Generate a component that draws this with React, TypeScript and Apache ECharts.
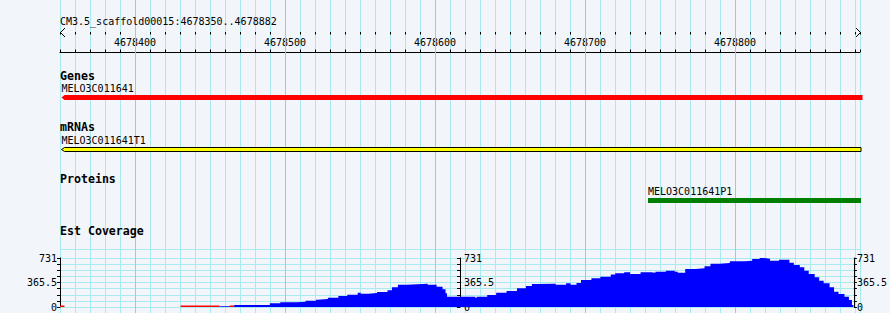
import React, { useEffect, useRef } from 'react';
import * as echarts from 'echarts';

// ---- domain ----
const VIEW_START = 4678350;
const VIEW_END = 4678350 + 1600 / 3;
const SCAFFOLD_LABEL = 'CM3.5_scaffold00015:4678350..4678882';

// ---- tracks ----
const trackTitles = ['Genes', 'mRNAs', 'Proteins', 'Est Coverage'];

// ---- features ----
const featureNames = ['MELO3C011641', 'MELO3C011641T1', 'MELO3C011641P1'];
const featureStarts = [4678351, 4678351, 4678742];
const featureEnds = [4678885, 4678884, 4678884];
const featureTrack = [0, 1, 2];

// ---- ruler / grid ----
const majorPositions = [4678400, 4678500, 4678600, 4678700, 4678800];

// ---- EST coverage ----
const covMax = 731;
const covTickLabels = [0, 365.5, 731];
const covPos = [
  4678457, 4678464, 4678467, 4678491, 4678498, 4678509, 4678515, 4678522, 4678523, 4678530,
  4678537, 4678543, 4678550, 4678552, 4678557, 4678563, 4678570, 4678573, 4678577, 4678583,
  4678590, 4678597, 4678603, 4678607, 4678609, 4678610, 4678629, 4678630, 4678637, 4678643,
  4678650, 4678657, 4678663, 4678667, 4678670, 4678683, 4678690, 4678693, 4678697, 4678700,
  4678707, 4678713, 4678720, 4678723, 4678729, 4678733, 4678740, 4678747, 4678750, 4678757,
  4678763, 4678765, 4678770, 4678777, 4678783, 4678787, 4678793, 4678800, 4678810, 4678815,
  4678820, 4678823, 4678827, 4678833, 4678840, 4678843, 4678847, 4678850, 4678853, 4678857,
  4678860, 4678863, 4678867, 4678870, 4678873, 4678877, 4678880, 4678882, 4678883,
];
const covVal = [
  10, 0, 30, 55, 70, 79, 94, 109, 119, 139,
  164, 184, 213, 199, 209, 224, 249, 293, 333, 338,
  348, 333, 303, 264, 204, 154, 139, 154, 179, 213,
  239, 279, 313, 343, 348, 333, 353, 333, 358, 403,
  428, 453, 483, 502, 517, 493, 517, 512, 527, 542,
  527, 512, 567, 577, 607, 646, 656, 681, 691, 716,
  731, 721, 691, 706, 661, 627, 592, 542, 493, 443,
  393, 353, 293, 229, 194, 154, 104, 30, 0,
];
const zeroStarts = [4678350, 4678431, 4678464];
const zeroEnds = [4678353, 4678457, 4678467];

const MONO = '"DejaVu Sans Mono", "Liberation Mono", monospace';
const MINOR = '#a8eaf0';
const MAJOR = '#9cc8e6';

// layout of each feature track (pixels)
const trackLayout = [
  { labelY: 88, top: 95, h: 5, fill: '#ff0000', stroke: null, arrow: true },
  { labelY: 140, top: 147.5, h: 4, fill: '#ffff00', stroke: '#000000', arrow: true },
  { labelY: 191, top: 198, h: 5, fill: '#008000', stroke: null, arrow: false },
];
const titleY = [76, 127, 179, 231];

export default function App() {
  const ref = useRef<HTMLDivElement>(null);
  useEffect(() => {
    document.body.style.margin = '0';
    if (!ref.current) return;
    const chart = echarts.init(ref.current, undefined, { renderer: 'svg' });

    const isNear = (v: number, arr: number[]) => arr.some((a) => Math.abs(a - v) < 1e-6);
    const rulerFmt = (v: number) => {
      const r = Math.round(v);
      return Math.abs(v - r) < 1e-6 && r % 100 === 0 ? String(r) : '';
    };
    const covFmt = (v: number) => (isNear(v, covTickLabels) ? String(v) : '');

    const covAxisBase = {
      type: 'value',
      min: 0,
      max: covMax,
      interval: covMax / 8,
      axisLine: { show: true, lineStyle: { color: '#000', width: 1 } },
      axisTick: { show: true, length: 3, lineStyle: { color: '#000' } },
      axisLabel: { show: true, formatter: covFmt, fontFamily: MONO, fontSize: 10, color: '#000', margin: 3 },
      splitLine: { show: false },
    };

    const option: any = {
      animation: false,
      backgroundColor: '#f2f5fa',
      grid: [
        { left: 60, width: 800, top: 0, height: 313 },
        { left: 60, width: 800, top: 32, height: 20 },
        { left: 60, width: 800, top: 258, height: 49 },
        { left: 460, width: 400, top: 258, height: 49 },
      ],
      xAxis: [
        {
          gridIndex: 0, type: 'value', min: VIEW_START, max: VIEW_END, interval: 10,
          axisLine: { show: false }, axisTick: { show: false }, axisLabel: { show: false },
          splitLine: { show: true, lineStyle: { color: MINOR, width: 1 } },
        },
        {
          gridIndex: 1, type: 'value', position: 'top', min: VIEW_START, max: VIEW_END, interval: 10,
          axisLine: { show: true, lineStyle: { color: '#000', width: 1 } },
          axisTick: { show: true, length: 2.5, lineStyle: { color: '#000' } },
          axisLabel: { show: false }, splitLine: { show: false },
        },
        {
          gridIndex: 1, type: 'value', position: 'top', min: VIEW_START, max: VIEW_END, interval: 10,
          axisLine: { show: false },
          axisTick: { show: true, inside: true, length: 2.5, lineStyle: { color: '#000' } },
          axisLabel: { show: true, inside: true, margin: 5, formatter: rulerFmt, fontFamily: MONO, fontSize: 10, color: '#000' },
          splitLine: { show: false },
        },
        { gridIndex: 2, type: 'value', min: VIEW_START, max: VIEW_END, show: false },
        { gridIndex: 3, type: 'value', min: 0, max: 1, show: false },
      ],
      yAxis: [
        { gridIndex: 0, type: 'value', min: 0, max: 3, show: false },
        { gridIndex: 1, type: 'value', min: 0, max: 1, show: false },
        {
          ...covAxisBase, gridIndex: 2, position: 'left',
          splitLine: { show: true, lineStyle: { color: MINOR, width: 1 } },
        },
        { ...covAxisBase, gridIndex: 2, position: 'right' },
        {
          ...covAxisBase, gridIndex: 3, position: 'left',
          axisLabel: { ...covAxisBase.axisLabel, inside: true, margin: 4 },
        },
      ],
      graphic: {
        elements: [
          {
            type: 'text', x: 60, y: 21, z: 10,
            style: { text: SCAFFOLD_LABEL, font: `10px ${MONO}`, fill: '#000', verticalAlign: 'middle' },
          },
          ...trackTitles.map((t, i) => ({
            type: 'text', x: 60, y: titleY[i], z: 10,
            style: { text: t, font: `bold 11.6px ${MONO}`, fill: '#000', verticalAlign: 'middle' },
          })),
          {
            type: 'polyline', z: 10,
            shape: { points: [[65, 28], [60.5, 32.5], [65, 37]] },
            style: { stroke: '#000', lineWidth: 1, fill: null },
          },
          {
            type: 'polyline', z: 10,
            shape: { points: [[856, 28], [860.5, 32.5], [856, 37]] },
            style: { stroke: '#000', lineWidth: 1, fill: null },
          },
          {
            type: 'line', z: 1,
            shape: { x1: 60, y1: 249.5, x2: 860, y2: 249.5 },
            style: { stroke: MINOR, lineWidth: 1 },
          },
        ],
      },
      series: [
        {
          type: 'custom',
          xAxisIndex: 0, yAxisIndex: 0, z: 1, silent: true,
          data: majorPositions.map((p) => [p, 0]),
          renderItem: (params: any, api: any) => {
            const x = Math.round(api.coord([api.value(0), 0])[0]) + 0.5;
            const cs = params.coordSys;
            return {
              type: 'line',
              shape: { x1: x, y1: cs.y, x2: x, y2: cs.y + cs.height },
              style: { stroke: MAJOR, lineWidth: 1 },
            };
          },
        },
        {
          type: 'custom',
          xAxisIndex: 0, yAxisIndex: 0, z: 5, silent: true,
          encode: { x: [0, 1], y: 2 },
          data: featureStarts.map((s, i) => [s, featureEnds[i], featureTrack[i]]),
          renderItem: (params: any, api: any) => {
            const s = api.value(0);
            const e = api.value(1);
            const L = trackLayout[api.value(2)];
            const x0 = api.coord([s, 0])[0];
            const x1 = api.coord([e, 0])[0];
            const top = L.top;
            const bot = L.top + L.h;
            const mid = (top + bot) / 2;
            const points = L.arrow
              ? [[x0, mid], [x0 + 3, top], [x1, top], [x1, bot], [x0 + 3, bot]]
              : [[x0, top], [x1, top], [x1, bot], [x0, bot]];
            return {
              type: 'group',
              children: [
                {
                  type: 'polygon',
                  shape: { points },
                  style: { fill: L.fill, stroke: L.stroke || undefined, lineWidth: L.stroke ? 1 : 0 },
                },
                {
                  type: 'text',
                  x: x0,
                  y: L.labelY,
                  style: {
                    text: featureNames[params.dataIndex],
                    font: `10px ${MONO}`,
                    fill: '#000',
                    align: 'left',
                    verticalAlign: 'middle',
                  },
                },
              ],
            };
          },
        },
        {
          type: 'line',
          xAxisIndex: 3, yAxisIndex: 2, z: 3, silent: true,
          step: 'end',
          symbol: 'none',
          lineStyle: { width: 0, color: '#0000ff' },
          areaStyle: { color: '#0000ff', opacity: 1 },
          data: covPos.map((p, i) => [p, covVal[i]]),
        },
        {
          type: 'custom',
          xAxisIndex: 3, yAxisIndex: 2, z: 4, silent: true,
          data: zeroStarts.map((s, i) => [s, zeroEnds[i]]),
          encode: { x: [0, 1] },
          renderItem: (params: any, api: any) => {
            const a = api.coord([api.value(0), 0]);
            const b = api.coord([api.value(1), 0]);
            return {
              type: 'line',
              shape: { x1: a[0], y1: a[1] - 0.75, x2: b[0], y2: b[1] - 0.75 },
              style: { stroke: '#ff0000', lineWidth: 1.5 },
            };
          },
        },
      ],
    };

    chart.setOption(option);
    return () => chart.dispose();
  }, []);

  return <div ref={ref} style={{ width: 890, height: 313 }} />;
}
